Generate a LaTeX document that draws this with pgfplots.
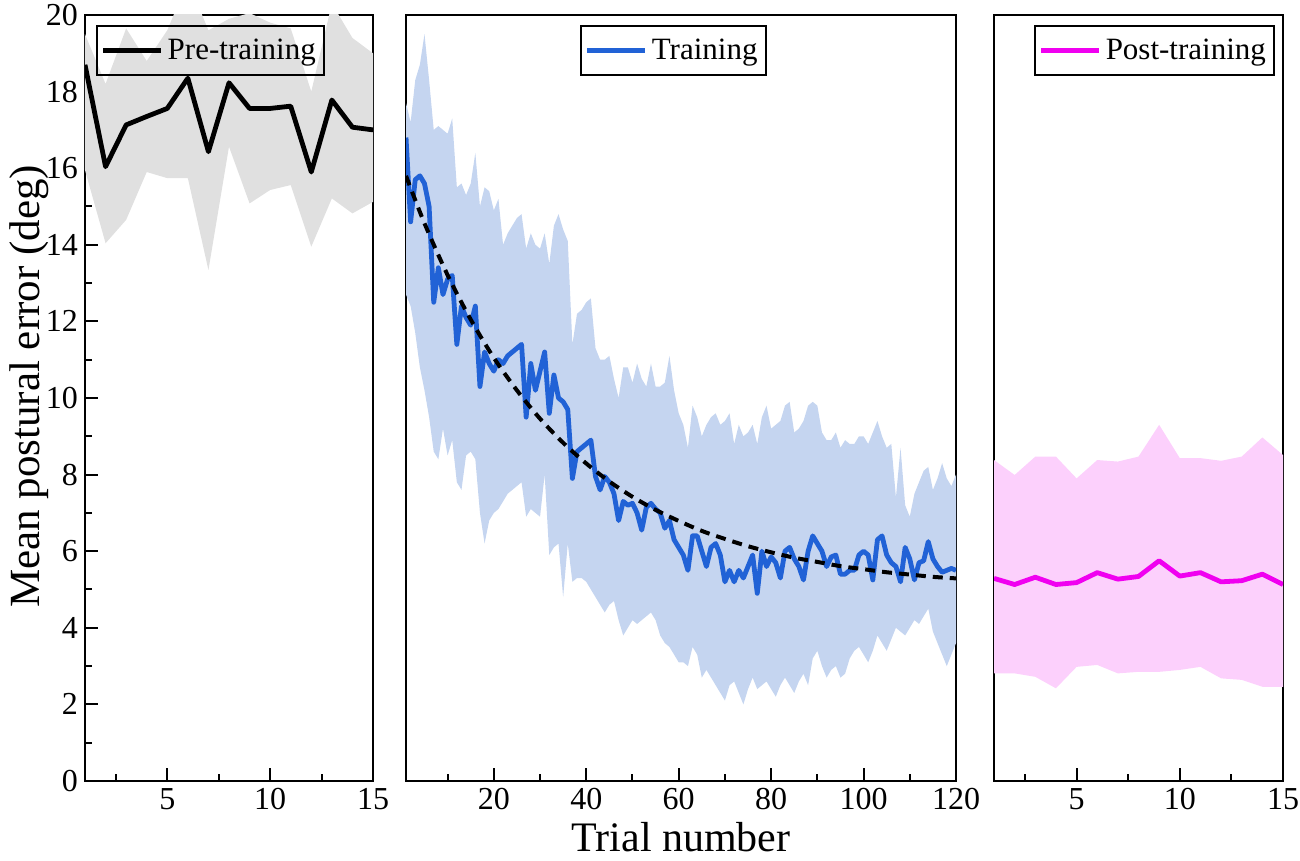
\documentclass[border=0pt]{standalone}
\usepackage{fontspec}
\setmainfont{Liberation Serif}
\usepackage{pgfplots}
\pgfplotsset{compat=1.18}
\usepackage{pgfplotstable}
\usepgfplotslibrary{fillbetween}
\definecolor{bandgray}{RGB}{224,224,224}
\definecolor{tblue}{RGB}{33,98,214}
\definecolor{bandblue}{RGB}{197,213,240}
\definecolor{pmag}{RGB}{240,0,240}
\definecolor{bandpink}{RGB}{252,208,252}

\pgfplotstableread{
t m u l
1 18.7 19.5 15.95
2 16.04 18.2 14.04
3 17.13 19.65 14.65
4 17.35 18.8 15.9
5 17.56 19.6 15.74
6 18.35 20.9 15.74
7 16.43 19.6 13.34
8 18.23 19.9 16.56
9 17.56 20.05 15.08
10 17.56 19.8 15.43
11 17.62 19.65 15.56
12 15.9 18.0 13.95
13 17.78 20.3 15.21
14 17.07 19.4 14.82
15 17.0 19.0 15.12
}\pre

\pgfplotstableread{
t m u l
1 5.29 8.38 2.81
2 5.13 7.99 2.81
3 5.32 8.47 2.72
4 5.13 8.47 2.42
5 5.18 7.9 2.98
6 5.44 8.38 3.03
7 5.27 8.34 2.81
8 5.34 8.47 2.85
9 5.75 9.3 2.85
10 5.35 8.43 2.9
11 5.44 8.43 2.98
12 5.2 8.36 2.68
13 5.23 8.47 2.64
14 5.4 8.97 2.46
15 5.13 8.51 2.46
}\post

\pgfplotstableread{
t f
1 15.8
5 14.56
10 13.21
15 12.05
20 11.05
25 10.20
30 9.46
35 8.83
40 8.29
45 7.82
50 7.42
55 7.08
60 6.79
65 6.53
70 6.32
75 6.13
80 5.97
85 5.83
90 5.72
95 5.61
100 5.53
105 5.45
110 5.39
115 5.33
120 5.29
}\fit

\pgfplotstableread{
t m u l
1 16.8 17.7 12.7
2 14.6 17.2 12.4
3 15.7 18.3 11.7
4 15.8 18.7 10.8
5 15.6 19.5 10.2
6 15.0 18.3 9.5
7 12.5 17.0 8.6
8 13.4 17.1 8.4
9 12.7 17.0 9.2
10 13.1 16.9 8.5
11 13.2 17.3 8.9
12 11.4 15.5 7.8
13 12.4 15.6 7.6
14 12.1 15.3 8.5
15 11.9 15.6 8.6
16 12.4 16.4 8.4
17 10.3 15.0 7.0
18 11.2 15.5 6.2
19 10.9 15.4 6.8
20 10.7 14.9 7.0
21 11.0 15.2 7.1
22 10.9 14.0 7.3
23 11.1 14.3 7.5
24 11.2 14.5 7.6
25 11.3 14.7 7.7
26 11.4 14.8 7.8
27 9.5 13.9 6.9
28 10.9 14.3 7.1
29 10.2 14.0 7.0
30 10.7 13.9 6.9
31 11.2 14.3 8.0
32 9.6 13.5 5.9
33 10.6 14.5 6.1
34 10.0 14.8 6.2
35 9.9 14.4 4.8
36 9.7 14.1 6.2
37 7.9 11.4 5.2
38 8.6 12.2 5.3
39 8.7 12.3 5.3
40 8.8 12.5 5.2
41 8.9 12.6 5.0
42 7.95 11.3 4.8
43 7.6 11.0 4.6
44 7.95 11.0 4.4
45 7.8 11.1 4.6
46 7.5 10.5 4.7
47 6.8 10.0 4.2
48 7.3 10.8 3.8
49 7.2 10.8 4.0
50 7.25 10.4 4.2
51 7.0 10.9 4.1
52 6.55 10.5 4.2
53 7.15 10.3 4.3
54 7.25 10.9 4.4
55 7.1 10.3 4.2
56 7.0 10.3 3.8
57 6.6 10.4 3.6
58 6.8 11.1 3.5
59 6.3 10.2 3.3
60 6.1 9.6 3.1
61 5.9 9.3 3.1
62 5.5 8.7 3.0
63 6.4 9.8 3.5
64 6.4 9.5 3.3
65 6.0 9.0 2.7
66 5.6 9.3 2.9
67 6.1 9.5 2.7
68 6.2 9.6 2.5
69 5.9 9.3 2.3
70 5.2 9.4 2.1
71 5.5 9.6 2.5
72 5.2 8.8 2.6
73 5.5 9.3 2.3
74 5.3 9.0 2.0
75 5.6 9.1 2.4
76 5.9 9.3 2.7
77 4.9 8.8 2.4
78 6.0 9.5 2.5
79 5.6 9.8 2.6
80 5.85 9.2 2.4
81 5.7 9.3 2.2
82 5.3 9.4 2.5
83 6.0 9.8 2.7
84 6.1 9.9 2.5
85 5.8 9.1 2.3
86 5.6 9.2 2.6
87 5.25 9.4 2.8
88 6.0 9.8 2.5
89 6.4 9.9 3.2
90 6.2 9.8 3.4
91 6.0 9.1 3.0
92 5.6 8.9 2.7
93 5.85 8.9 2.9
94 5.9 9.1 3.0
95 5.4 8.7 2.7
96 5.4 8.9 2.8
97 5.5 8.8 3.2
98 5.5 8.8 3.4
99 5.9 9.0 3.5
100 6.0 9.0 3.3
101 5.9 8.8 3.1
102 5.25 9.1 3.4
103 6.3 9.4 3.8
104 6.4 9.0 3.6
105 5.9 8.7 3.4
106 5.7 8.8 3.7
107 5.6 7.4 4.0
108 5.2 8.7 3.9
109 6.1 7.2 3.8
110 5.8 6.9 4.0
111 5.25 7.5 4.2
112 5.7 7.8 4.1
113 5.75 8.1 4.3
114 6.25 8.2 4.5
115 5.8 7.6 3.9
116 5.6 7.9 3.6
117 5.45 8.3 3.3
118 5.5 7.9 3.0
119 5.55 7.7 3.3
120 5.5 8.0 3.6
}\train

\pgfplotsset{
  panel/.style={
    scale only axis, height=383pt, ymin=0, ymax=20,
    axis line style={line width=1pt},
    every tick/.style={line width=1pt, black},
    tick align=inside,
    major tick length=6.5pt, minor tick length=3.5pt,
    xtick pos=bottom, ytick pos=left,
    ticklabel style={font=\fontsize{16}{19}\selectfont},
    /pgf/number format/assume math mode=true,
    legend cell align=left,
    legend style={draw=black, line width=1pt, fill=none,
      font=\fontsize{15.5}{18}\selectfont, inner xsep=2pt, inner ysep=4.5pt},
    legend image code/.code={\draw[##1] (0pt,0pt) -- (29pt,0pt);},
  }
}

\begin{document}
\begin{tikzpicture}
% ---------- Pre-training ----------
\begin{axis}[panel, at={(0pt,0pt)}, anchor=south west, width=144pt,
  xmin=1, xmax=15, xtick={5,10,15}, minor xtick={2.5,7.5,12.5},
  ytick={0,2,...,20}, minor ytick={1,3,...,19},
  ylabel={Mean postural error (deg)},
  ylabel style={font=\fontsize{21.5}{24}\selectfont, at={(axis description cs:-0.195,0.515)}, anchor=center, inner sep=0pt},
  legend style={at={(0.038,0.987)}, anchor=north west}]
\addplot[name path=pu, draw=none, forget plot] table[x=t,y=u]{\pre};
\addplot[name path=pl, draw=none, forget plot] table[x=t,y=l]{\pre};
\addplot[bandgray, draw=none, forget plot] fill between[of=pu and pl];
\addplot[black, line width=2.4pt, line join=round] table[x=t,y=m]{\pre};
\addlegendentry{Pre-training}
\end{axis}
% ---------- Training ----------
\begin{axis}[panel, at={(160.5pt,0pt)}, anchor=south west, width=275pt,
  xmin=1, xmax=120, xtick={20,40,...,120}, minor xtick={10,30,...,110},
  ytick=\empty,
  xlabel={Trial number},
  xlabel style={font=\fontsize{21}{24}\selectfont, at={(axis description cs:0.5,0)}, anchor=north, inner sep=0pt, yshift=-20.5pt},
  legend style={at={(0.486,0.987)}, anchor=north}]
\addplot[name path=tu, draw=none, forget plot] table[x=t,y=u]{\train};
\addplot[name path=tl, draw=none, forget plot] table[x=t,y=l]{\train};
\addplot[bandblue, draw=none, forget plot] fill between[of=tu and tl];
\addplot[tblue, line width=2.4pt, line join=round] table[x=t,y=m]{\train};
\addlegendentry{Training}
\addplot[black, line width=2pt, dash pattern=on 5pt off 3.5pt, smooth, forget plot] table[x=t,y=f]{\fit};
\end{axis}
% ---------- Post-training ----------
\begin{axis}[panel, at={(454.5pt,0pt)}, anchor=south west, width=144.5pt,
  xmin=1, xmax=15, xtick={5,10,15}, minor xtick={2.5,7.5,12.5},
  ytick=\empty,
  legend style={at={(0.972,0.987)}, anchor=north east}]
\addplot[name path=qu, draw=none, forget plot] table[x=t,y=u]{\post};
\addplot[name path=ql, draw=none, forget plot] table[x=t,y=l]{\post};
\addplot[bandpink, draw=none, forget plot] fill between[of=qu and ql];
\addplot[pmag, line width=2.4pt, line join=round] table[x=t,y=m]{\post};
\addlegendentry{Post-training}
\end{axis}
\pgfresetboundingbox
\path[use as bounding box] (-42.5pt,-40pt) rectangle (607.5pt,390.5pt);
\end{tikzpicture}
\end{document}
